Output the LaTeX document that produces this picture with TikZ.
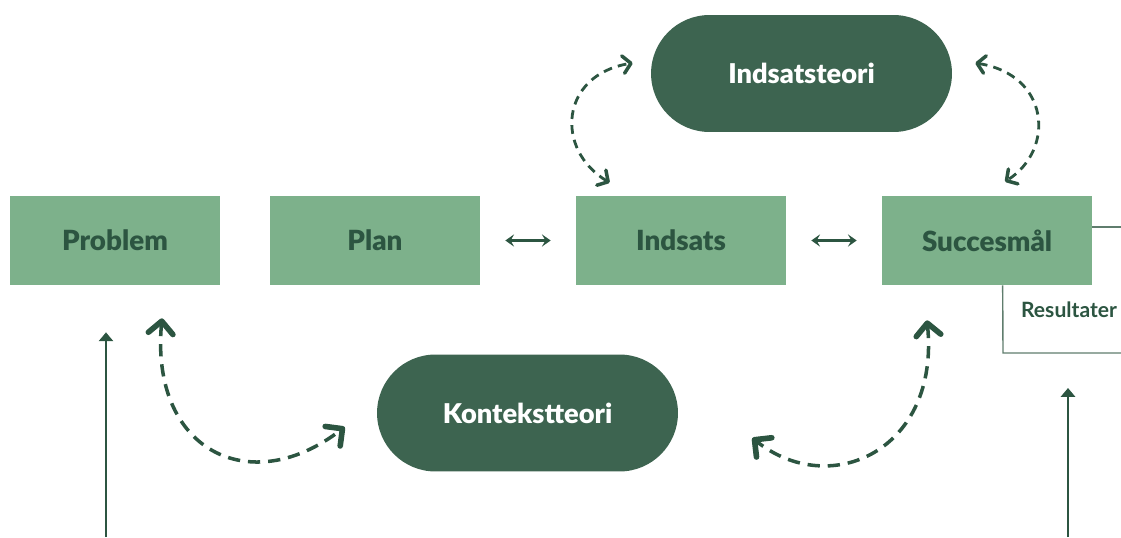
\documentclass[tikz,border=0pt]{standalone}
\usepackage{fontspec}
\setmainfont{Lato}[BoldFont={Lato Black}]
\newfontfamily\resfont{Lato}
\usetikzlibrary{arrows.meta}

\definecolor{boxgreen}{HTML}{7DB18B}
\definecolor{pillgreen}{HTML}{3D6450}
\definecolor{darkgreen}{HTML}{2C5541}
\definecolor{linegreen}{HTML}{5F7D6D}

\tikzset{
  smallpil/.style={darkgreen,line width=1.6pt,dash pattern=on 5pt off 3.5pt,
    >={Straight Barb[length=4.5pt,width=10pt,line width=2pt,round]},<->},
  bigpil/.style={darkgreen,line width=2pt,dash pattern=on 7pt off 4.5pt,
    >={Straight Barb[length=7pt,width=14pt,line width=3.2pt,round]},<->},
  dobbelpil/.style={darkgreen,line width=1.5pt,
    >={Stealth[length=5pt,width=7pt,inset=2pt]},<->,shorten <=0.5cm,shorten >=0.5cm},
  oppil/.style={darkgreen,line width=1.4pt,-{Triangle[length=5pt,width=8pt]}}
}

\begin{document}
\begin{tikzpicture}[x=0.02cm,y=-0.02cm]
  \useasboundingbox (0,0) rectangle (1121,537);

  \begin{scope}[every node/.style={rectangle,fill=boxgreen,text=darkgreen,
      minimum width=4.2cm,minimum height=1.78cm,
      font=\fontsize{15.8}{18}\selectfont\bfseries}]
    \node (problem)    at (115,240.5) {Problem};
    \node (plan)       at (375,240.5) {Plan};
    \node (indsats)    at (681,240.5) {Indsats};
    \node (succesmaal) at (987,240.5) {Succesmål};
  \end{scope}

  \begin{scope}[every node/.style={rectangle,rounded corners=1.17cm,fill=pillgreen,
      text=white,minimum width=6.02cm,minimum height=2.34cm,
      font=\fontsize{15.5}{18}\selectfont\bfseries}]
    \node (indsatsteori)  at (801.5,73.5) {Indsatsteori};
    \node (kontekstteori) at (527.5,413)  {Kontekstteori};
  \end{scope}

  \node[text=darkgreen,font=\resfont\fontsize{12}{14}\selectfont\bfseries] (resultater) at (1069,310) {Resultater};

  % resultater bracket
  \coordinate (hjoerne) at (1003,353);
  \draw[linegreen,line width=0.8pt] ([yshift=0.27cm]succesmaal.east) -- ++(29,0);
  \draw[linegreen,line width=0.8pt] ([xshift=2.42cm]succesmaal.south west) -- (hjoerne) -- ++(118,0);

  % straight arrows
  \path (plan)    edge[dobbelpil] (indsats);
  \path (indsats) edge[dobbelpil] (succesmaal);

  \coordinate (venstrebund) at (106,537);
  \coordinate (hoejrebund)  at (1068,537);
  \draw[oppil,shorten >=0.94cm] (venstrebund) -- (venstrebund |- problem.south);
  \draw[oppil,shorten >=0.7cm]  (hoejrebund) -- (hoejrebund |- hjoerne);

  % dashed arrows
  \draw[smallpil] ([xshift=0.68cm,yshift=0.26cm]indsats.north west)
    .. controls +(-55,-33) and +(-73,12) .. ([xshift=-0.36cm,yshift=0.21cm]indsatsteori.west);
  \draw[smallpil] ([xshift=0.46cm,yshift=0.21cm]indsatsteori.east)
    .. controls +(75,12) and +(50,-32) .. ([xshift=0.36cm,yshift=0.28cm]succesmaal.north);
  \draw[bigpil] ([xshift=0.94cm,yshift=-0.66cm]problem.south)
    .. controls +(-12,132) and +(-95,73) .. ([xshift=-0.64cm,yshift=-0.28cm]kontekstteori.west);
  \draw[bigpil] ([xshift=-1.2cm,yshift=-0.7cm]succesmaal.south)
    .. controls +(13,130) and +(78,62) .. ([xshift=1.48cm,yshift=-0.5cm]kontekstteori.east);

\end{tikzpicture}
\end{document}
